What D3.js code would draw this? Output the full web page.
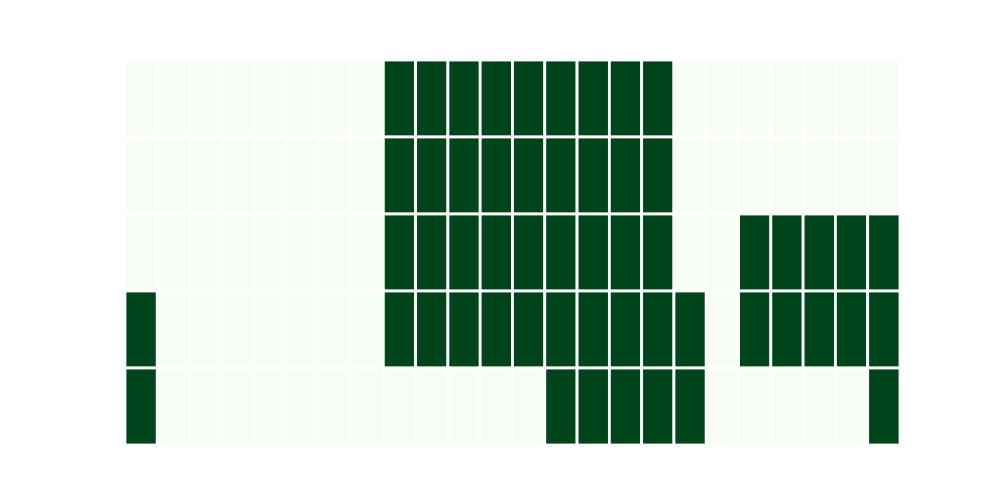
<!DOCTYPE html>
<html lang="en">
<head>
    <meta charset="UTF-8">
    <title>Heatmap</title>
    <script src="https://d3js.org/d3.v7.min.js"></script>
    <style>
        body { margin: 0; background: #ffffff; }
        .cell { stroke: #ffffff; stroke-width: 2.8; }
    </style>
</head>
<body>
<svg id="heatmap" width="1000" height="500"></svg>
<script>
    // 24 columns x 5 rows, binary values (1 = dark)
    const columns = d3.range(24);
    const rows = d3.range(5);
    const values = [
        [0,0,0,0,0,0,0,0,1,1,1,1,1,1,1,1,1,0,0,0,0,0,0,0],
        [0,0,0,0,0,0,0,0,1,1,1,1,1,1,1,1,1,0,0,0,0,0,0,0],
        [0,0,0,0,0,0,0,0,1,1,1,1,1,1,1,1,1,0,0,1,1,1,1,1],
        [1,0,0,0,0,0,0,0,1,1,1,1,1,1,1,1,1,1,0,1,1,1,1,1],
        [1,0,0,0,0,0,0,0,0,0,0,0,0,1,1,1,1,1,0,0,0,0,0,1]
    ];

    const svg = d3.select("#heatmap");

    const x = d3.scaleBand().domain(columns).range([125, 900]);
    const y = d3.scaleBand().domain(rows).range([60, 445]);

    const color = d3.scaleSequential(d3.interpolateGreens).domain([0, 1]);

    const cells = [];
    rows.forEach(r => columns.forEach(c => cells.push({ r, c, v: values[r][c] })));

    svg.selectAll("rect.cell")
        .data(cells)
        .enter()
        .append("rect")
        .attr("class", "cell")
        .attr("x", d => x(d.c))
        .attr("y", d => y(d.r))
        .attr("width", x.bandwidth())
        .attr("height", y.bandwidth())
        .attr("fill", d => d.v ? "#00441b" : "#f7fcf5");
</script>
</body>
</html>
